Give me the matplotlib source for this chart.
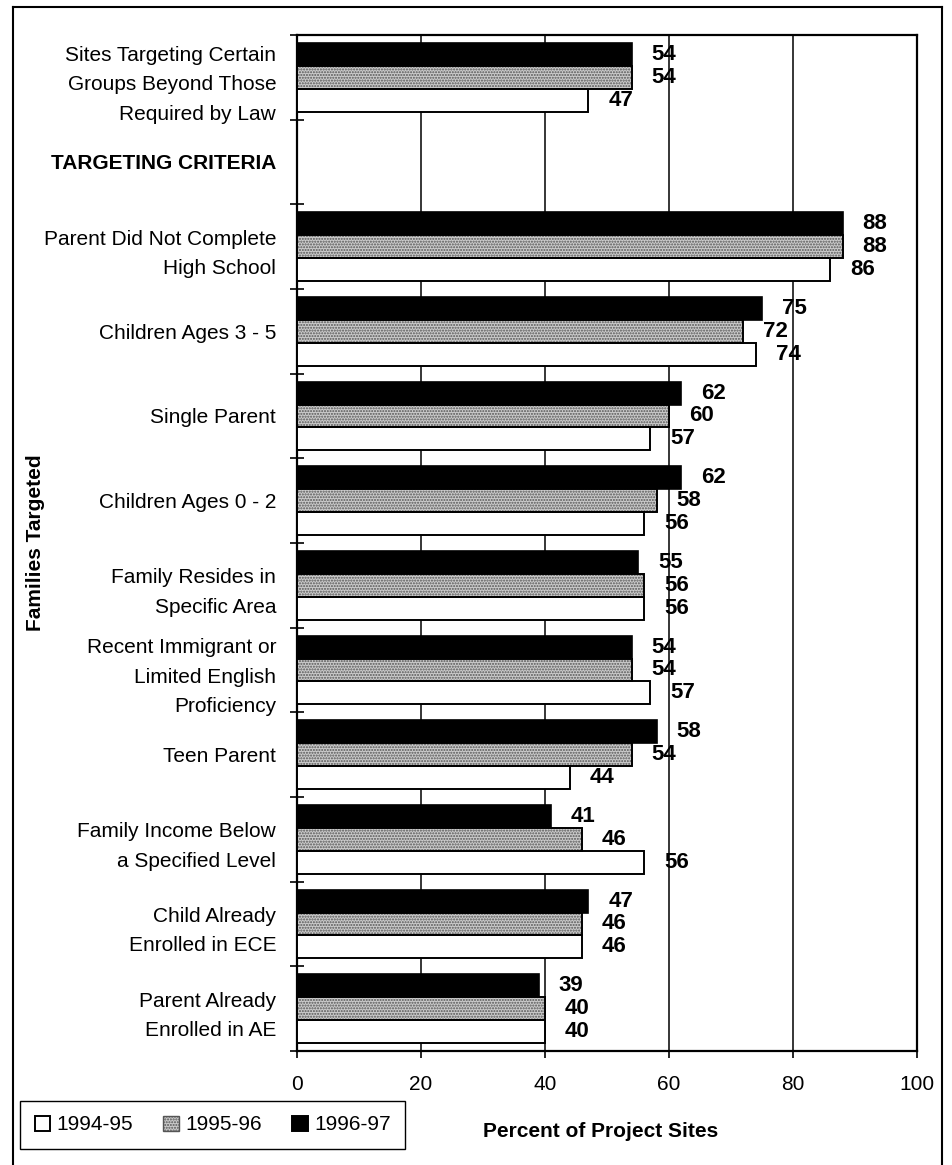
#!/usr/bin/env python3
"""Families targeted by project sites, three program years."""
import numpy as np
import matplotlib
matplotlib.use("Agg")
import matplotlib.pyplot as plt
from matplotlib.patches import Patch
from matplotlib.lines import Line2D

plt.rcParams["font.family"] = ["Liberation Sans", "DejaVu Sans"]

CATEGORIES = [
    "Sites Targeting Certain\nGroups Beyond Those\nRequired by Law",
    "TARGETING CRITERIA",
    "Parent Did Not Complete\nHigh School",
    "Children Ages 3 - 5",
    "Single Parent",
    "Children Ages 0 - 2",
    "Family Resides in\nSpecific Area",
    "Recent Immigrant or\nLimited English\nProficiency",
    "Teen Parent",
    "Family Income Below\na Specified Level",
    "Child Already\nEnrolled in ECE",
    "Parent Already\nEnrolled in AE",
]
YEARS = ["1994-95", "1995-96", "1996-97"]
# None marks the heading row, which has no bars
V_1994 = [47, None, 86, 74, 57, 56, 56, 57, 44, 56, 46, 40]
V_1995 = [54, None, 88, 72, 60, 58, 56, 54, 54, 46, 46, 40]
V_1996 = [54, None, 88, 75, 62, 62, 55, 54, 58, 41, 47, 39]
X_TICKS = [0, 20, 40, 60, 80, 100]

GREY = "#cbcbcb"
HATCH_COL = "#555555"
BAR_H = 0.27


def main():
    fig = plt.figure(figsize=(9.52, 11.65), dpi=100)
    W, H = 952, 1165
    left, right, top, bottom = 297, 917, 35, 1051
    ax = fig.add_axes([left / W, 1 - bottom / H, (right - left) / W, (bottom - top) / H])

    y = np.arange(len(CATEGORIES))
    mask = np.array([v is not None for v in V_1994])
    yy = y[mask]
    v94 = np.array([v for v in V_1994 if v is not None])
    v95 = np.array([v for v in V_1995 if v is not None])
    v96 = np.array([v for v in V_1996 if v is not None])

    # 1996-97 on top, 1995-96 middle, 1994-95 bottom
    ax.barh(yy - BAR_H, v96, height=BAR_H, color="black", edgecolor="black", lw=1.2, zorder=3)
    ax.barh(yy, v95, height=BAR_H, color=GREY, edgecolor=HATCH_COL, hatch="......", lw=0, zorder=3)
    ax.barh(yy, v95, height=BAR_H, fill=False, edgecolor="black", lw=1.4, zorder=4)
    ax.barh(yy + BAR_H, v94, height=BAR_H, color="white", edgecolor="black", lw=1.4, zorder=3)

    for vals, off in [(v96, -BAR_H), (v95, 0), (v94, BAR_H)]:
        for yi, v in zip(yy, vals):
            ax.text(v + 3.2, yi + off, str(v), va="center", ha="left",
                    fontsize=16, fontweight="bold", zorder=5)

    ax.set_xlim(0, 100)
    ax.set_ylim(len(CATEGORIES) - 0.5, -0.5)
    ax.set_xticks(X_TICKS)
    ax.set_xticklabels([str(t) for t in X_TICKS], fontsize=15)
    ax.tick_params(axis="x", direction="out", length=5, width=1.2, pad=12)

    ax.set_yticks(y)
    ax.set_yticklabels(CATEGORIES, fontsize=15)
    ax.tick_params(axis="y", which="major", length=0, pad=15)
    for t in ax.get_yticklabels():
        t.set_linespacing(1.7)
        if t.get_text() == "TARGETING CRITERIA":
            t.set_fontweight("bold")
    ax.set_yticks(np.arange(-0.5, len(CATEGORIES)), minor=True)
    ax.tick_params(axis="y", which="minor", direction="inout", length=10, width=1.2)

    for g in X_TICKS[1:-1]:
        ax.axvline(g, color="black", lw=1.1, zorder=1)
    for s in ax.spines.values():
        s.set_linewidth(1.6)
        s.set_color("black")

    ax.set_ylabel("Families Targeted", fontsize=15, fontweight="bold")
    ax.yaxis.set_label_coords((45 - left) / (right - left), 0.5)
    ax.set_xlabel("Percent of Project Sites", fontsize=15, fontweight="bold")
    ax.xaxis.set_label_coords((601 - left) / (right - left), -(1122 - bottom) / (bottom - top))

    handles = [
        Patch(facecolor="white", edgecolor="black", lw=1.4),
        Patch(facecolor=GREY, edgecolor=HATCH_COL, hatch="......", lw=1.0),
        Patch(facecolor="black", edgecolor="black", lw=1.4),
    ]
    fig.legend(handles, YEARS, loc="center left", ncol=3, fontsize=15,
               bbox_to_anchor=(20 / W, 1 - 1125 / H), frameon=True, fancybox=False,
               edgecolor="black", framealpha=1, handlelength=0.75, handleheight=0.75,
               handletextpad=0.3, columnspacing=1.45, borderpad=0.7, borderaxespad=0)

    # frame round the whole figure (no bottom edge in the scan)
    kw = dict(color="black", lw=1.5, transform=fig.transFigure)
    fig.add_artist(Line2D([13 / W, 13 / W], [0, 1 - 7 / H], **kw))
    fig.add_artist(Line2D([13 / W, 942 / W], [1 - 7 / H, 1 - 7 / H], **kw))
    fig.add_artist(Line2D([942 / W, 942 / W], [0, 1 - 7 / H], **kw))

    fig.savefig("out.png", dpi=100)
    plt.close(fig)


if __name__ == "__main__":
    main()
